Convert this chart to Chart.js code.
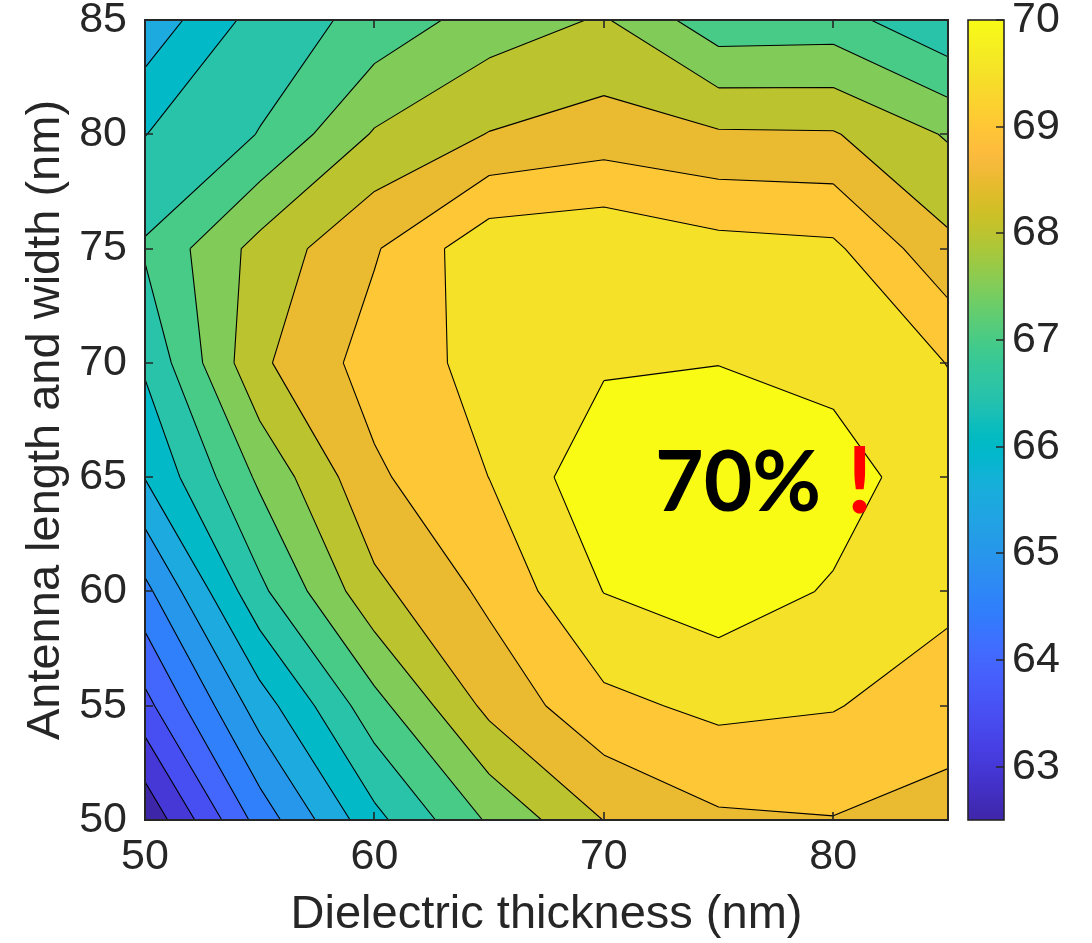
<!DOCTYPE html>
<html>
<head>
<meta charset="utf-8">
<script src="https://cdn.jsdelivr.net/npm/chart.js@4.4.1/dist/chart.umd.min.js"></script>
<style>
  html, body { margin: 0; padding: 0; background: #ffffff; }
  #wrap { position: relative; width: 1092px; height: 943px; }
</style>
</head>
<body>
<div id="wrap"><canvas id="chart" width="1092" height="943"></canvas></div>
<script>
// Grid axes (nm)
const thickness = [50, 55, 60, 65, 70, 75, 80, 85];
const antennaSize = [50, 55, 60, 65, 70, 75, 80, 85];

// Efficiency (%) on the grid: one row per antenna size, values ordered by thickness
const eff50 = [62.58, 64.70, 66.35, 67.57, 68.51, 68.92, 68.98, 68.82];
const eff55 = [63.84, 65.75, 67.32, 68.64, 69.37, 69.62, 69.53, 69.22];
const eff60 = [64.86, 66.88, 68.37, 69.12, 70.01, 70.26, 69.95, 69.63];
const eff65 = [66.02, 67.60, 68.91, 69.505, 70.38, 70.40, 70.22, 69.70];
const eff70 = [66.58, 68.41, 69.22, 69.66, 69.93, 69.99, 69.85, 69.49];
const eff75 = [67.06, 68.18, 68.95, 69.85, 69.94, 69.68, 69.60, 68.62];
const eff80 = [66.49, 67.02, 68.05, 68.52, 68.73, 68.56, 68.54, 67.95];
const eff85 = [65.65, 66.71, 67.16, 67.74, 68.05, 67.18, 67.22, 66.55];
const efficiency = [eff50, eff55, eff60, eff65, eff70, eff75, eff80, eff85];

// Contour levels and tick labels
const contourLevels = [62.5, 63, 63.5, 64, 64.5, 65, 65.5, 66, 66.5, 67, 67.5, 68, 68.5, 69, 69.5, 70];
const xTickValues = [50, 60, 70, 80];
const yTickValues = [50, 55, 60, 65, 70, 75, 80, 85];
const barTickValues = [63, 64, 65, 66, 67, 68, 69, 70];

// parula colormap, 64 entries
const PARULA = [
  [0.2422,0.1504,0.6603],[0.2504,0.1650,0.7076],[0.2578,0.1818,0.7511],[0.2647,0.1978,0.7952],
  [0.2706,0.2147,0.8364],[0.2751,0.2342,0.8710],[0.2783,0.2559,0.8991],[0.2803,0.2782,0.9221],
  [0.2813,0.3006,0.9414],[0.2810,0.3228,0.9579],[0.2795,0.3447,0.9717],[0.2760,0.3667,0.9829],
  [0.2699,0.3892,0.9906],[0.2602,0.4123,0.9952],[0.2440,0.4358,0.9988],[0.2206,0.4603,0.9973],
  [0.1963,0.4847,0.9892],[0.1834,0.5074,0.9798],[0.1786,0.5289,0.9682],[0.1764,0.5499,0.9520],
  [0.1687,0.5703,0.9359],[0.1540,0.5902,0.9218],[0.1460,0.6091,0.9079],[0.1380,0.6276,0.8973],
  [0.1248,0.6459,0.8883],[0.1113,0.6635,0.8763],[0.0952,0.6798,0.8598],[0.0689,0.6948,0.8394],
  [0.0297,0.7082,0.8163],[0.0036,0.7203,0.7917],[0.0067,0.7312,0.7660],[0.0433,0.7411,0.7394],
  [0.0964,0.7500,0.7120],[0.1408,0.7584,0.6842],[0.1717,0.7670,0.6554],[0.1938,0.7758,0.6251],
  [0.2161,0.7843,0.5923],[0.2470,0.7918,0.5567],[0.2906,0.7973,0.5188],[0.3406,0.8008,0.4789],
  [0.3909,0.8029,0.4354],[0.4456,0.8024,0.3909],[0.5044,0.7993,0.3480],[0.5616,0.7942,0.3045],
  [0.6174,0.7876,0.2612],[0.6720,0.7793,0.2227],[0.7242,0.7698,0.1910],[0.7738,0.7598,0.1646],
  [0.8203,0.7498,0.1535],[0.8634,0.7406,0.1596],[0.9035,0.7330,0.1774],[0.9393,0.7288,0.2100],
  [0.9728,0.7298,0.2394],[0.9956,0.7434,0.2371],[0.9970,0.7659,0.2199],[0.9952,0.7893,0.2028],
  [0.9892,0.8136,0.1885],[0.9786,0.8386,0.1766],[0.9676,0.8639,0.1643],[0.9610,0.8890,0.1537],
  [0.9597,0.9135,0.1423],[0.9628,0.9373,0.1265],[0.9691,0.9606,0.1064],[0.9769,0.9839,0.0805]
];

function parula(f) {
  f = Math.min(1, Math.max(0, f));
  const pos = f * (PARULA.length - 1);
  const i = Math.min(Math.floor(pos), PARULA.length - 2);
  const t = pos - i;
  const a = PARULA[i], b = PARULA[i + 1];
  const c = a.map((v, k) => Math.round(255 * (v + (b[k] - v) * t)));
  return 'rgb(' + c[0] + ',' + c[1] + ',' + c[2] + ')';
}

const FONT = "'Liberation Sans', Arial, Helvetica, sans-serif";
const INK = '#262626';

// Piece of one grid cell where value >= level, plus the iso-segments inside the cell
function cellPiece(X, Y, i, j, level) {
  const c = [[i, j], [i + 1, j], [i + 1, j + 1], [i, j + 1]];
  const v = c.map(([a, b]) => efficiency[b][a]);
  const pts = [], cross = [];
  for (let k = 0; k < 4; k++) {
    const n = (k + 1) % 4;
    const pk = [X[c[k][0]], Y[c[k][1]]];
    const pn = [X[c[n][0]], Y[c[n][1]]];
    const ak = v[k] >= level, an = v[n] >= level;
    if (ak) pts.push(pk);
    if (ak !== an) {
      const t = (level - v[k]) / (v[n] - v[k]);
      const p = [pk[0] + t * (pn[0] - pk[0]), pk[1] + t * (pn[1] - pk[1])];
      pts.push(p);
      cross.push({ p: p, exit: ak });
    }
  }
  const segs = [];
  for (let m = 0; m < cross.length; m++) {
    if (cross[m].exit) segs.push([cross[m].p, cross[(m + 1) % cross.length].p]);
  }
  return { pts: pts, segs: segs };
}

const contourPlugin = {
  id: 'filledContour',
  beforeDatasetsDraw(chart) {
    const { ctx, chartArea, scales } = chart;
    const X = thickness.map(v => scales.x.getPixelForValue(v));
    const Y = antennaSize.map(v => scales.y.getPixelForValue(v));
    const lo = contourLevels[0], hi = contourLevels[contourLevels.length - 1];
    ctx.save();
    ctx.beginPath();
    ctx.rect(chartArea.left, chartArea.top, chartArea.right - chartArea.left, chartArea.bottom - chartArea.top);
    ctx.clip();
    // filled bands, lowest first
    contourLevels.forEach(level => {
      ctx.beginPath();
      for (let j = 0; j < antennaSize.length - 1; j++) {
        for (let i = 0; i < thickness.length - 1; i++) {
          const pts = cellPiece(X, Y, i, j, level).pts;
          if (pts.length < 3) continue;
          ctx.moveTo(pts[0][0], pts[0][1]);
          for (let k = 1; k < pts.length; k++) ctx.lineTo(pts[k][0], pts[k][1]);
          ctx.closePath();
        }
      }
      ctx.fillStyle = parula((level - lo) / (hi - lo));
      ctx.fill('nonzero');
    });
    // contour lines
    ctx.strokeStyle = '#000000';
    ctx.lineWidth = 1.1;
    ctx.lineJoin = 'round';
    ctx.beginPath();
    contourLevels.forEach(level => {
      for (let j = 0; j < antennaSize.length - 1; j++) {
        for (let i = 0; i < thickness.length - 1; i++) {
          cellPiece(X, Y, i, j, level).segs.forEach(s => {
            ctx.moveTo(s[0][0], s[0][1]);
            ctx.lineTo(s[1][0], s[1][1]);
          });
        }
      }
    });
    ctx.stroke();
    ctx.restore();
  },
  afterDraw(chart) {
    const { ctx, chartArea: a, scales } = chart;
    const tick = 8;
    ctx.save();
    // peak annotation
    ctx.textBaseline = 'alphabetic';
    ctx.textAlign = 'center';
    ctx.fillStyle = '#000000';
    ctx.font = "bold 84px Lato, 'Open Sans', sans-serif";
    ctx.fillText('70%', scales.x.getPixelForValue(75.85), scales.y.getPixelForValue(63.53));
    ctx.fillStyle = '#ff0000';
    ctx.font = "bold 92px Lato, 'Open Sans', sans-serif";
    ctx.fillText('!', scales.x.getPixelForValue(81.15), scales.y.getPixelForValue(63.45));

    // axes box with inward ticks
    ctx.strokeStyle = INK;
    ctx.lineWidth = 2;
    ctx.strokeRect(a.left, a.top, a.right - a.left, a.bottom - a.top);
    ctx.lineWidth = 1.6;
    ctx.beginPath();
    xTickValues.forEach(v => {
      const x = Math.round(scales.x.getPixelForValue(v));
      ctx.moveTo(x, a.bottom); ctx.lineTo(x, a.bottom - tick);
      ctx.moveTo(x, a.top); ctx.lineTo(x, a.top + tick);
    });
    yTickValues.forEach(v => {
      const y = Math.round(scales.y.getPixelForValue(v));
      ctx.moveTo(a.left, y); ctx.lineTo(a.left + tick, y);
      ctx.moveTo(a.right, y); ctx.lineTo(a.right - tick, y);
    });
    ctx.stroke();

    // colorbar
    const cb = scales.cb;
    const left = a.right + 20, width = 36;
    const top = cb.getPixelForValue(cb.max), bottom = cb.getPixelForValue(cb.min);
    const grad = ctx.createLinearGradient(0, bottom, 0, top);
    PARULA.forEach((c, k) => {
      grad.addColorStop(k / (PARULA.length - 1),
        'rgb(' + Math.round(c[0] * 255) + ',' + Math.round(c[1] * 255) + ',' + Math.round(c[2] * 255) + ')');
    });
    ctx.fillStyle = grad;
    ctx.fillRect(left, top, width, bottom - top);
    ctx.strokeStyle = INK;
    ctx.lineWidth = 1.6;
    ctx.strokeRect(left, top, width, bottom - top);
    ctx.beginPath();
    barTickValues.forEach(v => {
      const y = Math.round(cb.getPixelForValue(v));
      ctx.moveTo(left + width, y); ctx.lineTo(left + width - tick, y);
    });
    ctx.stroke();
    ctx.restore();
  }
};

const points = [];
antennaSize.forEach((y, j) => thickness.forEach((x, i) => points.push({ x: x, y: y, v: efficiency[j][i] })));

const tickFont = { family: FONT, size: 43, lineHeight: 0.9 };
const titleFont = { family: FONT, size: 47, lineHeight: 1.2 };

// Label offsets use the (hidden) tick-mark length so the plot area keeps its full height
new Chart(document.getElementById('chart').getContext('2d'), {
  type: 'scatter',
  data: { datasets: [{ data: points, pointRadius: 0, pointHoverRadius: 0, showLine: false }] },
  options: {
    responsive: false,
    animation: false,
    events: [],
    layout: { padding: { top: 20, left: 0, right: 0, bottom: 0 } },
    plugins: { legend: { display: false }, tooltip: { enabled: false } },
    scales: {
      x: {
        type: 'linear', position: 'bottom', min: 50, max: 85,
        grid: { display: false, drawTicks: true, tickLength: 18 }, border: { display: false },
        ticks: { padding: 0, font: tickFont, color: INK, maxRotation: 0 },
        title: { display: true, text: 'Dielectric thickness (nm)', font: titleFont, color: INK, padding: { top: 0, bottom: 0 } },
        afterBuildTicks: s => { s.ticks = xTickValues.map(v => ({ value: v })); },
        afterFit: s => { s.height = 123; }
      },
      y: {
        type: 'linear', position: 'left', min: 50, max: 85,
        grid: { display: false, drawTicks: true, tickLength: 18 }, border: { display: false },
        ticks: { padding: 0, font: tickFont, color: INK },
        title: { display: true, text: 'Antenna length and width (nm)', font: titleFont, color: INK, padding: { top: 18, bottom: 0 } },
        afterBuildTicks: s => { s.ticks = yTickValues.map(v => ({ value: v })); },
        afterFit: s => { s.width = 145; }
      },
      cb: {
        type: 'linear', axis: 'y', position: 'right', min: 62.5, max: 70,
        grid: { display: false, drawTicks: true, tickLength: 64 }, border: { display: false },
        ticks: { padding: 0, font: tickFont, color: INK },
        afterBuildTicks: s => { s.ticks = barTickValues.map(v => ({ value: v })); },
        afterFit: s => { s.width = 144; }
      }
    }
  },
  plugins: [contourPlugin]
});
</script>
</body>
</html>
